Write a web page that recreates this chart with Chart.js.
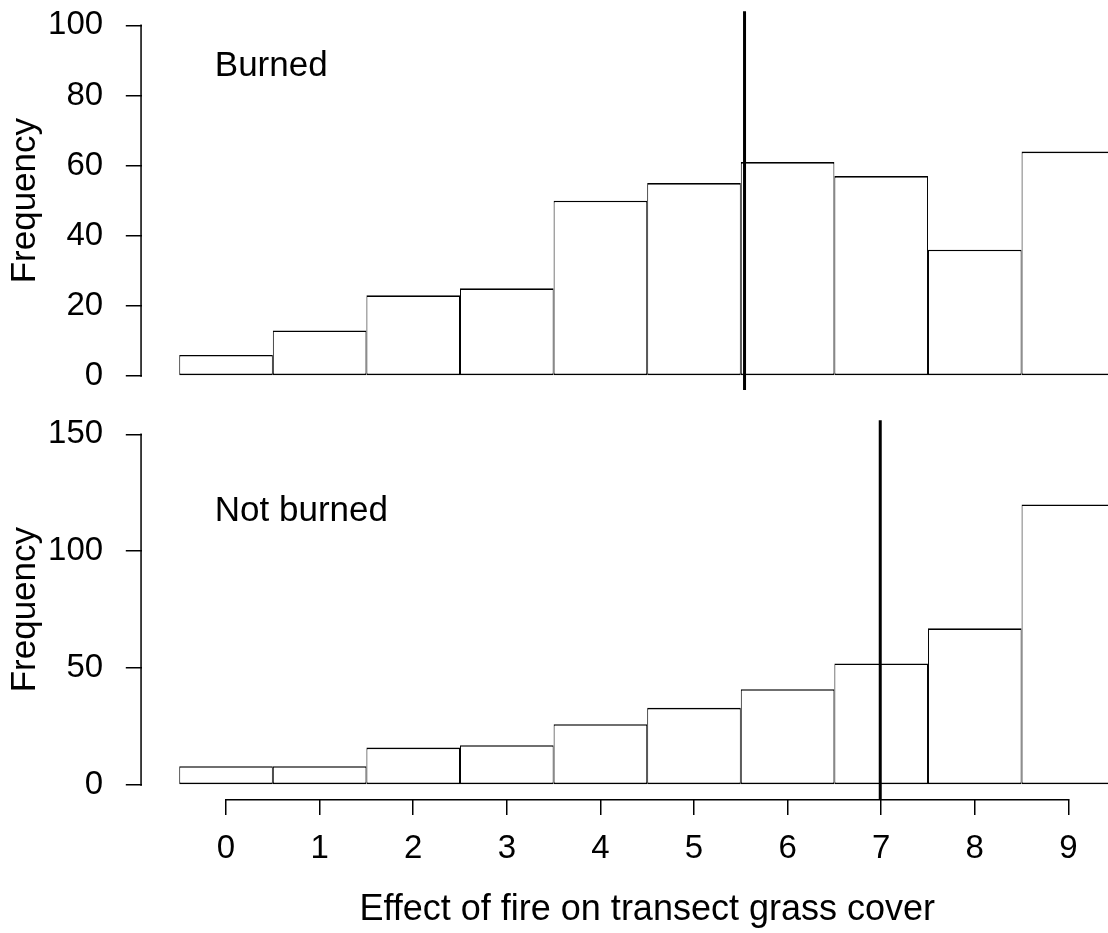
<!DOCTYPE html>
<html>
<head>
<meta charset="utf-8">
<script src="https://cdn.jsdelivr.net/npm/chart.js@4.4.1/dist/chart.umd.min.js"></script>
<style>
  html, body { margin: 0; padding: 0; overflow: hidden; background: #ffffff; width: 1108px; height: 933px; }
  canvas { position: absolute; left: 0; }
  #burned { top: 0; }
  #notburned { top: 405px; }
</style>
</head>
<body>
<canvas id="burned" width="1153" height="405"></canvas>
<canvas id="notburned" width="1153" height="528"></canvas>
<script>
// ---- data ----
const binCenters = [0, 1, 2, 3, 4, 5, 6, 7, 8, 9];
const burnedCounts = [6, 13, 23, 25, 50, 55, 61, 57, 36, 64];
const notBurnedCounts = [8, 8, 16, 17, 26, 33, 41, 52, 67, 120];
const xTickValues = [0, 1, 2, 3, 4, 5, 6, 7, 8, 9];
const yTicksBurned = [0, 20, 40, 60, 80, 100];
const yTicksNotBurned = [0, 50, 100, 150];
const meanBurned = 5.54;
const meanNotBurned = 6.99;
const xRange = [-0.9, 9.9];
const yRangeBurned = [-4, 104];
const yRangeNotBurned = [-6, 156];
const xTitle = 'Effect of fire on transect grass cover';
const yTitle = 'Frequency';
const labelBurned = 'Burned';
const labelNotBurned = 'Not burned';

// ---- styling ----
const FONT = '"Liberation Sans", Arial, Helvetica, sans-serif';
const BLACK = '#000000';

const rAxes = {
  id: 'rAxes',
  afterDraw(chart) {
    const ctx = chart.ctx;
    ctx.save();
    ctx.strokeStyle = BLACK;
    ctx.lineWidth = 1.5;
    ctx.lineCap = 'square';
    Object.values(chart.scales).forEach(s => {
      if (!s.options.display || !s.ticks.length) return;
      const a = s.getPixelForValue(s.ticks[0].value);
      const b = s.getPixelForValue(s.ticks[s.ticks.length - 1].value);
      ctx.beginPath();
      if (s.isHorizontal()) { ctx.moveTo(a, s.top + 0.75); ctx.lineTo(b, s.top + 0.75); }
      else { ctx.moveTo(s.right - 0.75, a); ctx.lineTo(s.right - 0.75, b); }
      ctx.stroke();
    });
    ctx.restore();
  }
};

const panelText = {
  id: 'panelText',
  afterDatasetsDraw(chart, args, opts) {
    if (!opts || !opts.text) return;
    const ctx = chart.ctx;
    const xs = chart.scales.x, ys = chart.scales.y;
    ctx.save();
    ctx.font = opts.size + 'px ' + FONT;
    ctx.fillStyle = BLACK;
    ctx.textAlign = 'left';
    ctx.textBaseline = 'alphabetic';
    ctx.fillText(opts.text, xs.getPixelForValue(opts.x), ys.getPixelForValue(opts.y));
    ctx.restore();
  }
};

function setTicks(values) {
  return function (scale) { scale.ticks = values.map(v => ({ value: v })); };
}

function makePanel(id, counts, mean, yTicks, yRange, label, labelAt, showX, padding) {
  const ctx = document.getElementById(id).getContext('2d');
  return new Chart(ctx, {
    type: 'bar',
    data: {
      datasets: [
        {
          type: 'line',
          order: 0,
          data: [{ x: mean, y: yRange[0] }, { x: mean, y: yRange[1] }],
          borderColor: BLACK,
          borderWidth: 3,
          pointRadius: 0,
          fill: false,
          clip: false
        },
        {
          type: 'bar',
          order: 1,
          data: binCenters.map((c, i) => ({ x: c, y: counts[i] })),
          backgroundColor: '#ffffff',
          borderColor: BLACK,
          borderWidth: { top: 1.6, bottom: 1.6, left: 1, right: 1 },
          borderSkipped: false,
          barPercentage: 1,
          categoryPercentage: 1,
          inflateAmount: 0
        }
      ]
    },
    options: {
      responsive: false,
      animation: false,
      devicePixelRatio: 1,
      layout: { autoPadding: false, padding: padding },
      plugins: {
        legend: { display: false },
        tooltip: { enabled: false },
        panelText: { text: label, x: labelAt[0], y: labelAt[1], size: 35 }
      },
      scales: {
        x: {
          type: 'linear',
          min: xRange[0],
          max: xRange[1],
          offset: false,
          display: showX,
          grid: { display: true, offset: false, drawOnChartArea: false, drawTicks: true, tickLength: 16, color: BLACK, lineWidth: 1.5 },
          border: { display: false },
          ticks: { color: BLACK, font: { size: 33, family: FONT }, padding: 13.7, autoSkip: false, maxRotation: 0 },
          title: { display: true, text: xTitle, color: BLACK, font: { size: 36, family: FONT, lineHeight: 1.2 }, padding: { top: 0, bottom: 1.2 } },
          afterBuildTicks: setTicks(xTickValues),
          afterFit: function (s) { s.height = showX ? 134 : 0; s.paddingLeft = 0; s.paddingRight = 0; }
        },
        y: {
          type: 'linear',
          min: yRange[0],
          max: yRange[1],
          grid: { display: true, drawOnChartArea: false, drawTicks: true, tickLength: 16, color: BLACK, lineWidth: 1.5 },
          border: { display: false },
          ticks: { color: BLACK, font: { size: 33, family: FONT }, padding: 22.7 },
          title: { display: true, text: yTitle, color: BLACK, font: { size: 35, family: FONT, lineHeight: 1.2 }, padding: { top: 4.7, bottom: 0 } },
          afterBuildTicks: setTicks(yTicks),
          afterFit: function (s) { s.width = 141.8; s.paddingTop = 0; s.paddingBottom = 0; }
        }
      }
    },
    plugins: [rAxes, panelText]
  });
}

makePanel('burned', burnedCounts, meanBurned, yTicksBurned, yRangeBurned,
  labelBurned, [-0.12, 85.6], false, { top: 11.3, bottom: 15, left: 0, right: 0.4 });
makePanel('notburned', notBurnedCounts, meanNotBurned, yTicksNotBurned, yRangeNotBurned,
  labelNotBurned, [-0.12, 113], true, { top: 15.3, bottom: 0, left: 0, right: 0.4 });
</script>
</body>
</html>
